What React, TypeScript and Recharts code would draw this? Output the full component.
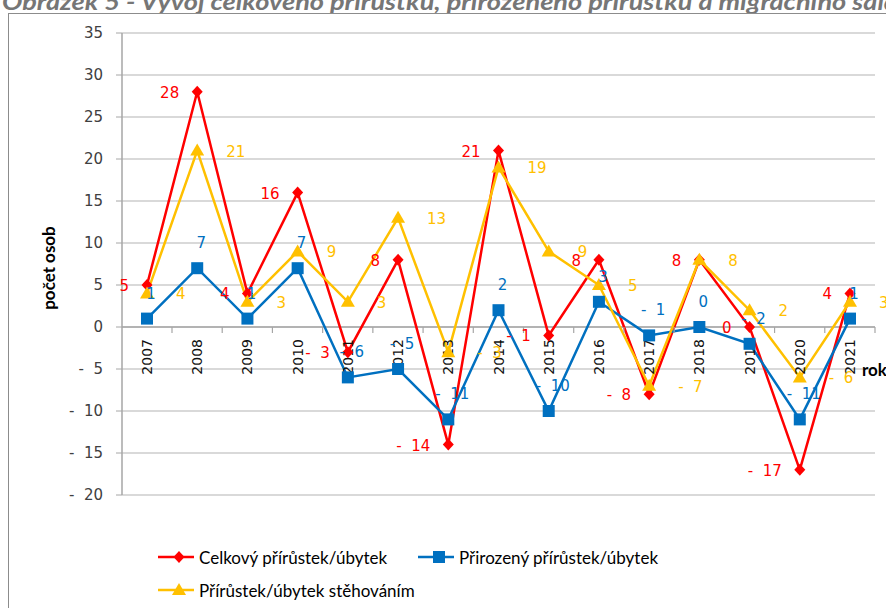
import React from 'react';
import { LineChart, Line, XAxis, YAxis, CartesianGrid, ReferenceLine, ReferenceDot, LabelList } from 'recharts';

const roky = ['2007', '2008', '2009', '2010', '2011', '2012', '2013', '2014', '2015', '2016', '2017', '2018', '2019', '2020', '2021'];
const celkovy = [5, 28, 4, 16, -3, 8, -14, 21, -1, 8, -8, 8, 0, -17, 4];
const prirozeny = [1, 7, 1, 7, -6, -5, -11, 2, -10, 3, -1, 0, -2, -11, 1];
const stehovani = [4, 21, 3, 9, 3, 13, -3, 19, 9, 5, -7, 8, 2, -6, 3];
const osaY = [-20, -15, -10, -5, 0, 5, 10, 15, 20, 25, 30, 35];

const data = roky.map((rok, i) => ({
  rok,
  celkovy: celkovy[i],
  prirozeny: prirozeny[i],
  stehovani: stehovani[i]
}));

const CERVENA = '#FF0000';
const MODRA = '#0070C0';
const ZLUTA = '#FFC000';
const SEDA = '#a6a6a6';
const PISMO = 'DejaVu Sans';

const fmt = (v: number) => (v < 0 ? `-\u00a0\u00a0${Math.abs(v)}` : `${v}`);

const popisek = (barva: string, dx: number, dy: number, anchor: string) => (props: any) => {
  const x = props.x ?? props.viewBox?.x;
  const y = props.y ?? props.viewBox?.y;
  return (
    <text x={x + dx} y={y + dy} fill={barva} textAnchor={anchor} dominantBaseline="central" fontSize={15} fontFamily={PISMO}>
      {fmt(props.value)}
    </text>
  );
};

const Diamant = ({ cx, cy }: any) => (
  <path d={`M${cx},${cy - 6}L${cx + 5.5},${cy}L${cx},${cy + 6}L${cx - 5.5},${cy}Z`} fill={CERVENA} />
);
const Ctverec = ({ cx, cy }: any) => <rect x={cx - 6} y={cy - 6} width={12} height={12} fill={MODRA} />;
const Trojuhelnik = ({ cx, cy }: any) => (
  <path d={`M${cx},${cy - 7}L${cx + 7},${cy + 5}L${cx - 7},${cy + 5}Z`} fill={ZLUTA} />
);

const rokPopisek = (rok: string) => (props: any) => {
  const x = props.viewBox?.x ?? props.x;
  const y = props.viewBox?.y ?? props.y;
  const ty = y + 12;
  return (
    <g>
      <line x1={x + 25} y1={y} x2={x + 25} y2={y + 6} stroke={SEDA} strokeWidth={1.2} />
      <text x={x} y={ty} transform={`rotate(-90, ${x}, ${ty})`} textAnchor="end" dominantBaseline="central" fontSize={14} fontFamily={PISMO} fill="#111">
        {rok}
      </text>
    </g>
  );
};

const legenda = [
  { nazev: 'Celkový přírůstek/úbytek', barva: CERVENA, Znacka: Diamant, left: 158, top: 547 },
  { nazev: 'Přirozený přírůstek/úbytek', barva: MODRA, Znacka: Ctverec, left: 418, top: 547 },
  { nazev: 'Přírůstek/úbytek stěhováním', barva: ZLUTA, Znacka: Trojuhelnik, left: 158, top: 580 }
];

export default function App() {
  return (
    <div style={{ position: 'absolute', left: 0, top: 0, width: 886, height: 608, overflow: 'hidden', background: '#fff' }}>
      <div style={{ position: 'absolute', left: 2, top: -10, whiteSpace: 'nowrap', fontFamily: 'Lato', fontWeight: 700, fontStyle: 'italic', fontSize: 23, lineHeight: 1, color: '#767676', transform: 'scaleX(1.18)', transformOrigin: 'left top' }}>
        Obrázek 5 - Vývoj celkového přírůstku, přirozeného přírůstku a migračního salda
      </div>
      <div style={{ position: 'absolute', left: 8, top: 13, width: 900, height: 620, border: '1.5px solid #8c8c8c', boxSizing: 'border-box' }} />
      <div style={{ position: 'absolute', left: 0, top: 0 }}>
        <LineChart width={886} height={608} data={data} margin={{ top: 33, right: 11, bottom: 113, left: 42 }}>
          <CartesianGrid vertical={false} stroke="#b3b3b3" strokeWidth={1.2} />
          <XAxis dataKey="rok" hide padding={{ left: 25, right: 25 }} />
          <YAxis
            domain={[-20, 35]}
            ticks={osaY}
            interval={0}
            allowDataOverflow
            tickFormatter={fmt}
            width={80}
            axisLine={{ stroke: SEDA, strokeWidth: 1.5 }}
            tickLine={{ stroke: SEDA }}
            tickSize={6}
            tickMargin={13}
            tick={{ fill: '#404040', fontSize: 15, fontFamily: PISMO }}
            label={(props: any) => {
              const vb = props.viewBox;
              const x = vb.x + 6;
              const y = vb.y + vb.height / 2 + 4;
              return (
                <text x={x} y={y} transform={`rotate(-90, ${x}, ${y})`} textAnchor="middle" dominantBaseline="central" fontSize={17} fontWeight={700} fontFamily="Lato" fill="#000">
                  počet osob
                </text>
              );
            }}
          />
          <ReferenceLine
            y={0}
            stroke={SEDA}
            strokeWidth={1.5}
            label={(props: any) => {
              const vb = props.viewBox;
              return (
                <text x={vb.x + vb.width - 13} y={vb.y + 42} dominantBaseline="central" fontSize={17} fontWeight={700} fontFamily="Lato" fill="#000">
                  rok
                </text>
              );
            }}
          />
          {roky.map((rok) => (
            <ReferenceDot key={rok} x={rok} y={0} r={0} fill="none" stroke="none" label={rokPopisek(rok)} />
          ))}
          <Line
            dataKey="celkovy"
            stroke={CERVENA}
            strokeWidth={2.5}
            isAnimationActive={false}
            activeDot={false}
            dot={(p: any) => <Diamant key={`c${p.index}`} cx={p.cx} cy={p.cy} />}
          >
            <LabelList dataKey="celkovy" content={popisek(CERVENA, -18, 1, 'end')} />
          </Line>
          <Line
            dataKey="prirozeny"
            stroke={MODRA}
            strokeWidth={2.5}
            isAnimationActive={false}
            activeDot={false}
            dot={(p: any) => <Ctverec key={`p${p.index}`} cx={p.cx} cy={p.cy} />}
          >
            <LabelList dataKey="prirozeny" content={popisek(MODRA, 4, -25, 'middle')} />
          </Line>
          <Line
            dataKey="stehovani"
            stroke={ZLUTA}
            strokeWidth={2.5}
            isAnimationActive={false}
            activeDot={false}
            dot={(p: any) => <Trojuhelnik key={`s${p.index}`} cx={p.cx} cy={p.cy} />}
          >
            <LabelList dataKey="stehovani" content={popisek(ZLUTA, 29, 1, 'start')} />
          </Line>
        </LineChart>
      </div>
      {legenda.map(({ nazev, barva, Znacka, left, top }) => (
        <div key={nazev} style={{ position: 'absolute', left, top, height: 20, display: 'flex', alignItems: 'center', fontFamily: 'Lato', fontSize: 17, color: '#000', whiteSpace: 'nowrap' }}>
          <svg width={38} height={20} style={{ marginRight: 3 }}>
            <line x1={0} y1={10} x2={36} y2={10} stroke={barva} strokeWidth={2.5} />
            <Znacka cx={21} cy={10} />
          </svg>
          {nazev}
        </div>
      ))}
    </div>
  );
}
